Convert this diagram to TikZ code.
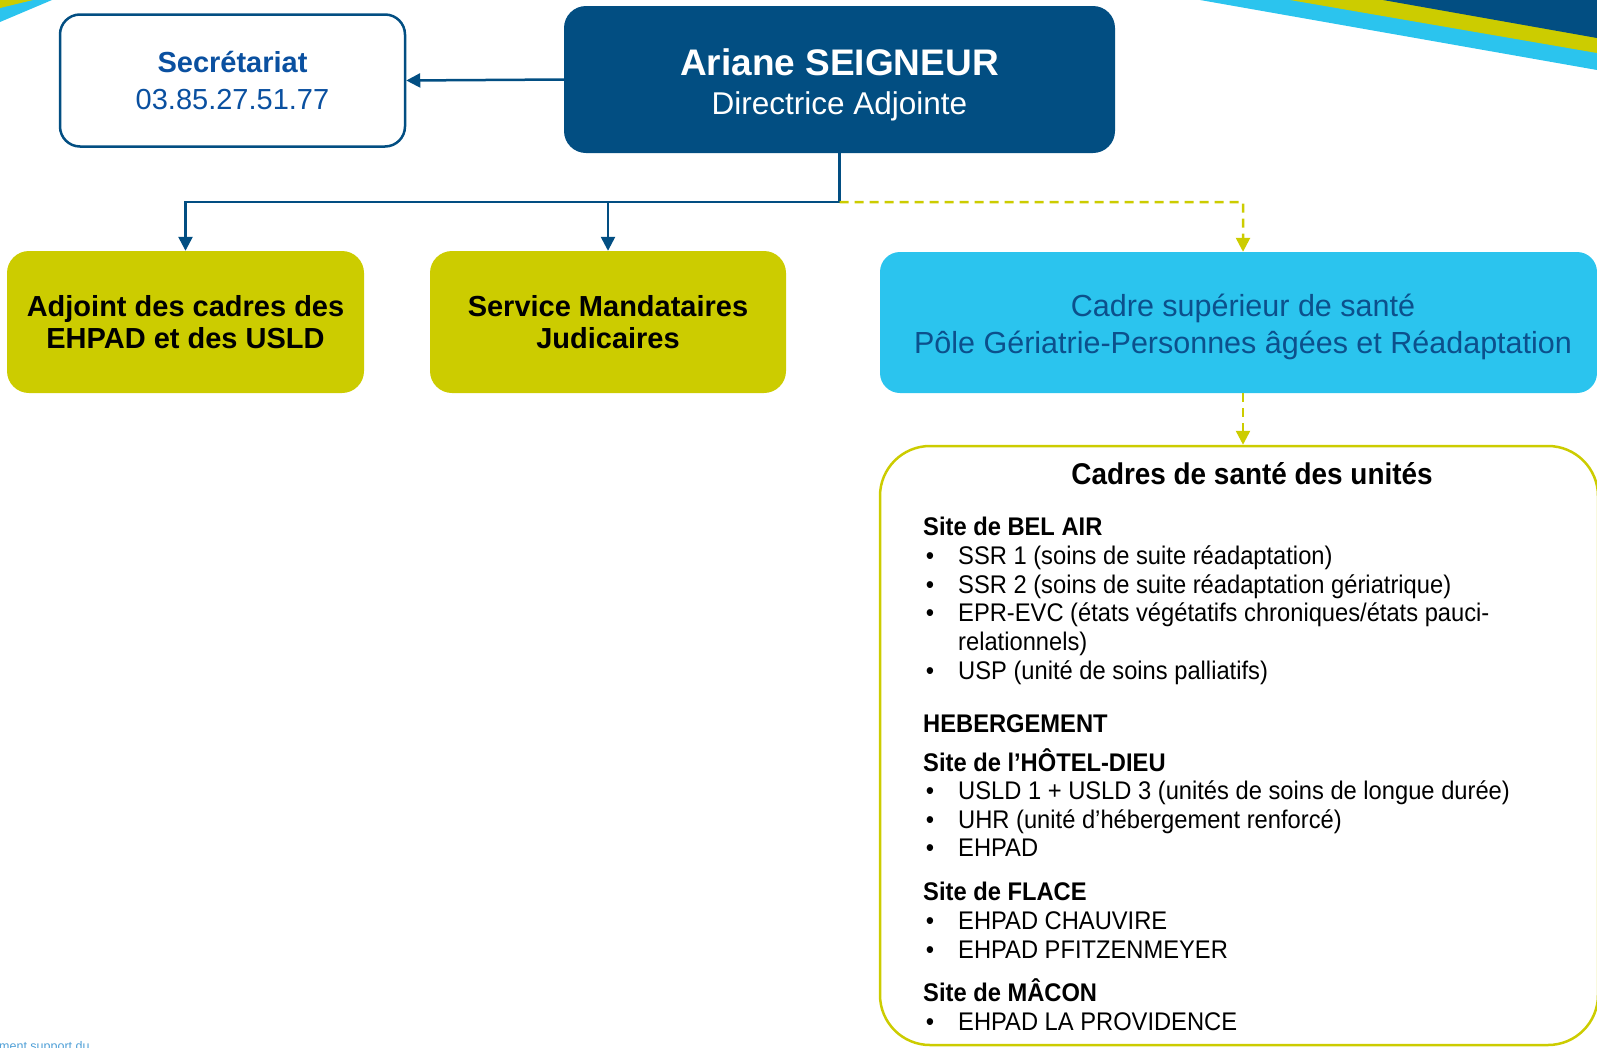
\documentclass[tikz,border=0pt]{standalone}
\usepackage{fontspec}
\setmainfont{Liberation Sans}
\newfontfamily\narrowfont[FakeStretch=0.93]{Liberation Sans}
\usetikzlibrary{arrows.meta, positioning, calc}
\definecolor{dark_blue}{RGB}{2, 78, 130}
\definecolor{sec_blue}{RGB}{10, 80, 160}
\definecolor{olive_green}{RGB}{204, 204, 0}
\definecolor{sky_blue}{RGB}{43, 196, 238}
\definecolor{sky_text}{RGB}{12, 80, 140}
\definecolor{note_blue}{RGB}{80, 160, 215}

\begin{document}
\begin{tikzpicture}[
    x=1pt, y=-1pt,
    head/.style={
        rectangle,
        rounded corners=22pt,
        fill=dark_blue,
        text=white,
        minimum width=551pt,
        minimum height=147pt,
        inner sep=0pt,
        align=center,
        font=\fontsize{31.5}{39}\selectfont
    },
    secbox/.style={
        rectangle,
        rounded corners=20pt,
        draw=dark_blue,
        line width=2.5pt,
        fill=white,
        text=sec_blue,
        minimum width=345pt,
        minimum height=132pt,
        inner sep=0pt,
        align=center,
        font=\fontsize{29}{37}\selectfont
    },
    greenbox/.style={
        rectangle,
        rounded corners=22pt,
        fill=olive_green,
        text=black,
        minimum width=#1,
        minimum height=142pt,
        inner sep=0pt,
        align=center,
        font=\bfseries\fontsize{29}{32}\selectfont
    },
    skybox/.style={
        rectangle,
        rounded corners=20pt,
        fill=sky_blue,
        text=sky_text,
        minimum width=717pt,
        minimum height=141pt,
        inner sep=0pt,
        align=center,
        font=\fontsize{30.5}{36.7}\selectfont
    },
    unitbox/.style={
        rectangle,
        rounded corners=50pt,
        draw=olive_green,
        line width=2.5pt,
        minimum width=718pt,
        minimum height=599pt,
        inner sep=0pt
    },
    item/.style={
        anchor=base west,
        inner sep=0pt,
        font=\narrowfont\fontsize{25.5}{28.6}\selectfont
    },
    heading/.style={
        item,
        font=\narrowfont\bfseries\fontsize{25.5}{28.6}\selectfont
    },
    dot/.style={
        anchor=base,
        inner sep=0pt,
        font=\narrowfont\fontsize{25.5}{28.6}\selectfont
    },
    link/.style={
        draw=dark_blue,
        line width=2.5pt,
        -{Triangle[length=14pt, width=14pt]}
    },
    dashlink/.style={
        draw=olive_green,
        line width=2.5pt,
        dash pattern=on 9pt off 6pt,
        -{Triangle[length=14pt, width=14pt]}
    }
]
\useasboundingbox (0,0) rectangle (1597,1047);

% Decorative bands in the corners
\fill[sky_blue] (1200,0) -- (1597,70) -- (1597,0) -- cycle;
\fill[olive_green] (1290,0) -- (1597,53) -- (1597,0) -- cycle;
\fill[dark_blue] (1383,0) -- (1597,38) -- (1597,0) -- cycle;
\fill[sky_blue] (0,0) -- (52,0) -- (0,22) -- cycle;
\fill[olive_green] (0,0) -- (33,0) -- (0,8) -- cycle;

% Top row
\node[head] (ariane) at (839.5,79.5) {{\fontsize{37}{39}\selectfont\bfseries\rule{0pt}{37pt}Ariane SEIGNEUR}\\Directrice Adjointe};
\node[secbox] (secretariat) at (232.5,80.5) {\textbf{Secrétariat}\\03.85.27.51.77};

% Second row
\node[greenbox=357pt] (adjoint) at (185.5,322) {Adjoint des cadres des\\EHPAD et des USLD};
\node[greenbox=356pt] (mandat) at (608,322) {Service Mandataires\\Judicaires};
\node[skybox] (cadresup) at (1238.5,322.5) {\rule{0pt}{31pt}\hspace*{9pt}Cadre supérieur de santé\\\hspace*{9pt}Pôle Gériatrie-Personnes âgées et Réadaptation};

% Units box
\node[unitbox] (units) at (1239,745.5) {};
\node[anchor=base, inner sep=0pt, font=\narrowfont\bfseries\fontsize{30}{34}\selectfont] (unitstitle) at (1252,484) {Cadres de santé des unités};

% Site de BEL AIR
\node[heading] (belair) at (923,535) {Site de BEL AIR};
\foreach \y/\txt [count=\i] in {564/{SSR 1 (soins de suite réadaptation)}, 593/{SSR 2 (soins de suite réadaptation gériatrique)}, 621/{EPR-EVC (états végétatifs chroniques/états pauci-}, 679/{USP (unité de soins palliatifs)}} {
    \node[dot] (belairdot\i) at (930,\y) {•};
    \node[item] (belair\i) at (958,\y) {\txt};
}
\node[item] (belaircont) at (958,650) {relationnels)};

% HEBERGEMENT
\node[heading] (heberg) at (923,732) {HEBERGEMENT};
\node[heading] (hotel) at (923,771) {Site de l’HÔTEL-DIEU};
\foreach \y/\txt [count=\i] in {799/{USLD 1 + USLD 3 (unités de soins de longue durée)}, 828/{UHR (unité d’hébergement renforcé)}, 856/{EHPAD}} {
    \node[dot] (hoteldot\i) at (930,\y) {•};
    \node[item] (hotel\i) at (958,\y) {\txt};
}

% Site de FLACE
\node[heading] (flace) at (923,900) {Site de FLACE};
\foreach \y/\txt [count=\i] in {929/{EHPAD CHAUVIRE}, 958/{EHPAD PFITZENMEYER}} {
    \node[dot] (flacedot\i) at (930,\y) {•};
    \node[item] (flace\i) at (958,\y) {\txt};
}

% Site de MACON
\node[heading] (macon) at (923,1001) {Site de MÂCON};
\node[dot] (macondot1) at (930,1030) {•};
\node[item] (macon1) at (958,1030) {EHPAD LA PROVIDENCE};

% Footer remnant
\node[anchor=base west, inner sep=0pt, text=note_blue, font=\fontsize{12.5}{14}\selectfont] (footer) at (-1,1050) {ment support du};

% Connectors
\coordinate[below=49pt of ariane.south] (split);
\coordinate (dashturn) at (1243,202);
\draw[link] (ariane.west) -- (secretariat.east);
\draw[line width=2.5pt, dark_blue] (ariane.south) -- (split);
\draw[link] (split) -| (adjoint.north);
\draw[link] (split) -| (mandat.north);
\draw[dashlink] (split) -- (dashturn) -- (dashturn |- cadresup.north);
\draw[dashlink] (cadresup.south -| dashturn) -- (units.north -| dashturn);

\end{tikzpicture}
\end{document}
